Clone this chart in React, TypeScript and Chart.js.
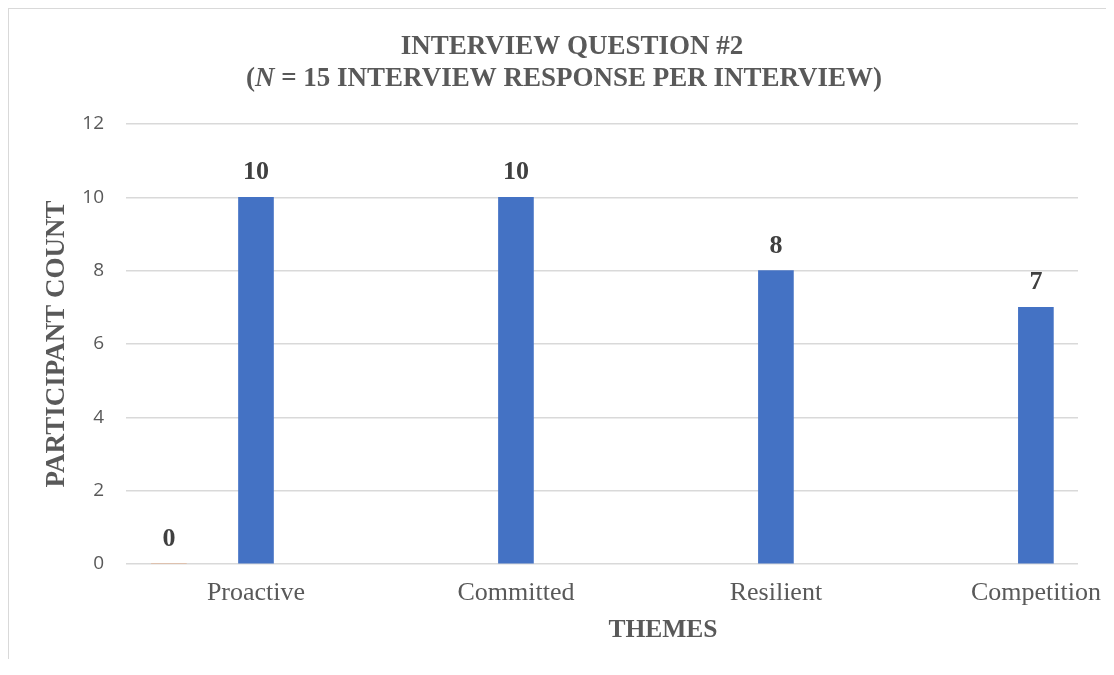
import React, { useEffect, useRef } from "react";
import { Chart, registerables } from "chart.js";

Chart.register(...registerables);

const categories = ["Proactive", "Committed", "Resilient", "Competition"];
const participantCounts = [10, 10, 8, 7];
const extraSeries = [0, null, null, null];
const yTicks = [0, 2, 4, 6, 8, 10, 12];

const EXTRA_SHIFT = -0.335;
const TITLE_LINE1 = "INTERVIEW QUESTION #2";
const TITLE_LINE2_PRE = "(";
const TITLE_LINE2_ITALIC = "N";
const TITLE_LINE2_POST = " = 15 INTERVIEW RESPONSE PER INTERVIEW)";
const Y_TITLE = "PARTICIPANT COUNT";
const X_TITLE = "THEMES";

const SERIF = '"Liberation Serif", "Times New Roman", serif';
const TEXT_GRAY = "#595959";

const textPlugin = {
  id: "customText",
  afterDatasetsDraw(chart: any) {
    const ctx = chart.ctx;
    ctx.save();
    ctx.fillStyle = "#404040";
    ctx.font = `bold 26px ${SERIF}`;
    ctx.textAlign = "center";
    ctx.textBaseline = "alphabetic";
    chart.data.datasets.forEach((ds: any, di: number) => {
      const meta = chart.getDatasetMeta(di);
      meta.data.forEach((el: any, i: number) => {
        const v = ds.data[i];
        if (!v) return;
        ctx.fillText(String(v.y), el.x, el.y - 18);
      });
    });
    ctx.restore();
  },
  afterDraw(chart: any) {
    const ctx = chart.ctx;
    const area = chart.chartArea;
    ctx.save();
    ctx.fillStyle = TEXT_GRAY;
    ctx.textBaseline = "alphabetic";
    ctx.font = `bold 27px ${SERIF}`;
    ctx.textAlign = "center";
    ctx.fillText(TITLE_LINE1, 563, 45);
    const boldF = `bold 27px ${SERIF}`;
    const italF = `italic bold 27px ${SERIF}`;
    ctx.font = boldF;
    const w1 = ctx.measureText(TITLE_LINE2_PRE).width;
    const w3 = ctx.measureText(TITLE_LINE2_POST).width;
    ctx.font = italF;
    const w2 = ctx.measureText(TITLE_LINE2_ITALIC).width;
    const total = w1 + w2 + w3;
    let x = 555 - total / 2;
    ctx.textAlign = "left";
    ctx.font = boldF;
    ctx.fillText(TITLE_LINE2_PRE, x, 77);
    x += w1;
    ctx.font = italF;
    ctx.fillText(TITLE_LINE2_ITALIC, x, 77);
    x += w2;
    ctx.font = boldF;
    ctx.fillText(TITLE_LINE2_POST, x, 77);
    ctx.textAlign = "center";
    ctx.font = `bold 25.5px ${SERIF}`;
    ctx.fillText(X_TITLE, 654, 628);
    ctx.translate(48, (area.top + area.bottom) / 2);
    ctx.rotate(-Math.PI / 2);
    ctx.font = `bold 27px ${SERIF}`;
    ctx.textBaseline = "middle";
    ctx.fillText(Y_TITLE, 0, 0);
    ctx.restore();
  },
};

export default function App() {
  const ref = useRef<HTMLCanvasElement>(null);
  useEffect(() => {
    if (!ref.current) return;
    const mainData = participantCounts.map((v, i) => ({ x: i, y: v }));
    const extraData = extraSeries
      .map((v, i) => (v === null ? null : { x: i + EXTRA_SHIFT, y: v }))
      .filter((p) => p !== null);
    const chart = new Chart(ref.current, {
      type: "bar",
      data: {
        datasets: [
          {
            label: "Participant count",
            data: mainData as any,
            backgroundColor: "#4472C4",
            borderWidth: 0,
            barThickness: 35,
            maxBarThickness: 35,
            grouped: false,
          } as any,
          {
            label: "Series 2",
            data: extraData as any,
            backgroundColor: "#ED7D31",
            borderWidth: 0,
            barThickness: 35,
            maxBarThickness: 35,
            grouped: false,
          } as any,
        ],
      },
      options: {
        animation: false,
        responsive: false,
        maintainAspectRatio: false,
        layout: { padding: { top: 115, right: 27, left: 0, bottom: 0 } },
        plugins: {
          legend: { display: false },
          title: { display: false },
          tooltip: { enabled: false },
        },
        scales: {
          x: {
            type: "linear",
            offset: false,
            min: -0.5,
            max: 3.162,
            grid: { display: false, drawTicks: false },
            border: { display: false },
            afterBuildTicks: (scale: any) => {
              scale.ticks = categories.map((_, i) => ({ value: i }));
            },
            afterFit: (scale: any) => {
              scale.height = 95;
              scale.paddingLeft = 0;
              scale.paddingRight = 0;
            },
            ticks: {
              autoSkip: false,
              maxRotation: 0,
              padding: 14,
              color: TEXT_GRAY,
              font: { family: SERIF, size: 26 },
              callback: (v: any) => categories[Math.round(Number(v))] ?? "",
            },
          },
          y: {
            min: 0,
            max: 12,
            afterBuildTicks: (scale: any) => {
              scale.ticks = yTicks.map((v) => ({ value: v }));
            },
            afterFit: (scale: any) => {
              scale.width = 117;
              scale.paddingTop = 0;
              scale.paddingBottom = 0;
            },
            grid: { color: "#d9d9d9", lineWidth: 1.5, drawTicks: false },
            border: { display: false },
            ticks: {
              padding: 22,
              color: TEXT_GRAY,
              font: { family: '"Open Sans", sans-serif', size: 19 },
            },
          },
        },
      },
      plugins: [textPlugin],
    } as any);
    return () => chart.destroy();
  }, []);
  return (
    <div
      style={{
        borderTop: "1px solid #d9d9d9",
        borderLeft: "1px solid #d9d9d9",
        width: 1097,
        height: 650,
        background: "#fff",
      }}
    >
      <canvas ref={ref} width={1096} height={650} style={{ display: "block" }} />
    </div>
  );
}
